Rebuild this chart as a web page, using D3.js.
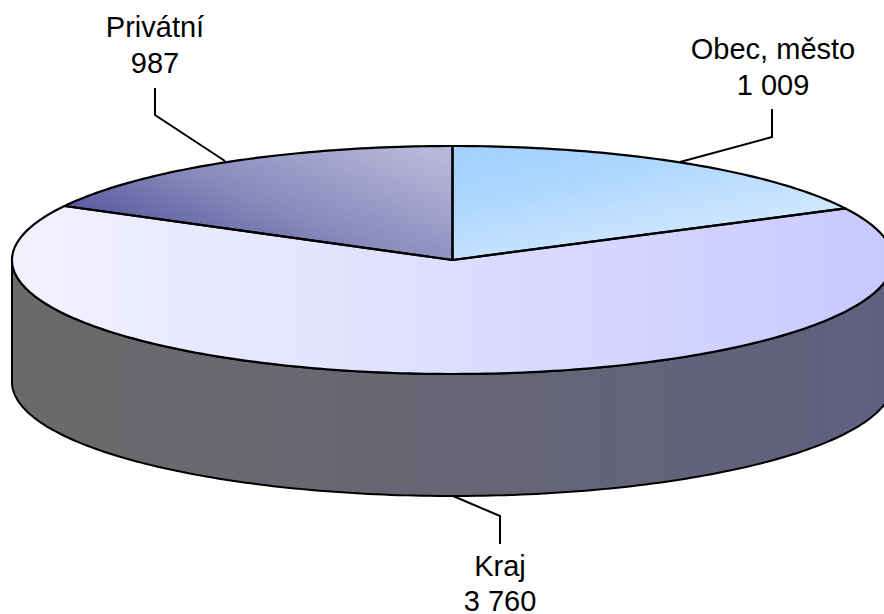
<!DOCTYPE html>
<html><head><meta charset="utf-8">
<script src="https://cdn.jsdelivr.net/npm/d3@7"></script>
<style>html,body{margin:0;padding:0;background:#fff;overflow:hidden}svg{display:block}
text{font-family:"Liberation Sans",Arial,sans-serif;font-size:29px;fill:#000;text-anchor:middle}</style>
</head><body><svg id="c" width="884" height="614"></svg>
<script>
const categories = ["Obec, město", "Kraj", "Privátní"];
const values = [1009, 3760, 987];
const valueLabels = ["1 009", "3 760", "987"];

const W = 884, H = 614, cx = 452.5, cy = 260, rx = 440.5, ry = 114, depth = 122;
const X = d3.scaleLinear().domain([-1, 1]).range([cx - rx, cx + rx]);
const Y = d3.scaleLinear().domain([-1, 1]).range([cy - ry, cy + ry]);

const svg = d3.select("#c");
const defs = svg.append("defs");
function grad(id, x1, y1, x2, y2, stops) {
  const g = defs.append("linearGradient").attr("id", id).attr("gradientUnits", "objectBoundingBox")
    .attr("x1", x1).attr("y1", y1).attr("x2", x2).attr("y2", y2);
  stops.forEach(s => g.append("stop").attr("offset", s[0]).attr("stop-color", s[1]));
}
grad("gObec", 0, 0, 0.75, 1, [[0, "#9fcfff"], [0.3, "#a8d4ff"], [1, "#dcedff"]]);
grad("gKraj", 0, 0, 1, 0, [[0, "#f2f2ff"], [1, "#c8c8ff"]]);
grad("gPriv", 0, 0.85, 1, 0.15, [[0, "#3f4190"], [0.5, "#8284b8"], [1, "#b4b4d8"]]);
grad("gSide", 0, 0, 1, 0, [[0, "#6a6a6a"], [0.3, "#686870"], [0.65, "#646478"], [1, "#5f5f80"]]);

const hatch = defs.append("pattern").attr("id", "hPriv").attr("width", 2.8).attr("height", 2.8)
  .attr("patternUnits", "userSpaceOnUse").attr("patternTransform", "rotate(45)");
hatch.append("rect").attr("width", 1).attr("height", 2.8).attr("fill", "#fff").attr("opacity", 0.1);
const dots = defs.append("pattern").attr("id", "hObec").attr("width", 5).attr("height", 3)
  .attr("patternUnits", "userSpaceOnUse").attr("patternTransform", "rotate(-20)");
dots.append("rect").attr("width", 3).attr("height", 1).attr("fill", "#fff").attr("opacity", 0.16);

const fills = ["url(#gObec)", "url(#gKraj)", "url(#gPriv)"];
const overlays = ["url(#hObec)", null, "url(#hPriv)"];

const pie = d3.pie().sort(null).startAngle(0).endAngle(2 * Math.PI);
const arcs = pie(values);
const pt = (a, dy = 0) => [X(Math.sin(a)), Y(-Math.cos(a)) + dy];
const line = d3.line();

// side wall: visible lower half of the rim
const rimAngles = d3.range(90, 270.5, 1).map(d => d * Math.PI / 180);
const sidePts = rimAngles.map(a => pt(a)).concat(rimAngles.slice().reverse().map(a => pt(a, depth)));
svg.append("path").attr("d", line(sidePts) + "Z").attr("fill", "url(#gSide)")
  .attr("stroke", "#000").attr("stroke-width", 2).attr("stroke-linejoin", "round");

// top face
function slicePts(d) {
  const n = Math.ceil((d.endAngle - d.startAngle) * 180 / Math.PI);
  const ang = d3.range(n + 1).map(k => d.startAngle + (d.endAngle - d.startAngle) * k / n);
  return [[cx, cy]].concat(ang.map(a => pt(a)));
}
arcs.forEach((d, i) => {
  const p = slicePts(d);
  svg.append("path").attr("class", "slice").attr("d", line(p) + "Z").attr("fill", fills[i]);
  if (overlays[i]) svg.append("path").attr("d", line(p) + "Z").attr("fill", overlays[i]);
});
arcs.forEach(d => {
  svg.append("path").attr("d", line(slicePts(d)) + "Z").attr("fill", "none")
    .attr("stroke", "#000").attr("stroke-width", 2.2).attr("stroke-linejoin", "round");
});

// leaders and labels
const labelPos = [
  { x: 773, y1: 59, y2: 95, leader: [[680, 162], [772, 137], [772, 109]] },
  { x: 500, y1: 576, y2: 611, leader: [[453, 496], [500, 516], [500, 544]] },
  { x: 155, y1: 37, y2: 73, leader: [[225, 161], [155, 115], [155, 88]] }
];
categories.forEach((c, i) => {
  const l = labelPos[i];
  svg.append("path").attr("d", line(l.leader)).attr("fill", "none").attr("stroke", "#000").attr("stroke-width", 2);
  svg.append("text").attr("x", l.x).attr("y", l.y1).text(c);
  svg.append("text").attr("x", l.x).attr("y", l.y2).text(valueLabels[i]);
});
</script></body></html>
